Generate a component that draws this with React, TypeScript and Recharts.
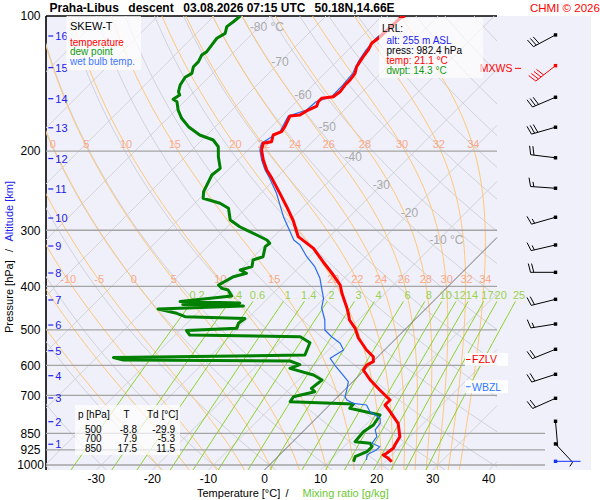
import React from 'react';
import { ComposedChart, Scatter, XAxis, YAxis, CartesianGrid, ReferenceLine } from 'recharts';

// ---------- skew-T geometry ----------
const P_TOP = 100;
const P_BOTTOM = 1026;
const SKEW = 80.08; // degC per decade of pressure
const X_MIN = -38.97;
const X_MAX = 58.23;
const X_DIAGRAM = 41.47;
const X_LOW_LINES = 50.03;
const skew = (t: number, p: number) => t + SKEW * Math.log10(P_BOTTOM / p);

// ---------- sounding data ----------
const tempPressure = [100, 101.2, 112.1, 115.0, 119.0, 123.2, 126.4, 129.7, 134.2, 138.8, 142.5, 147.5, 151.3, 152.5, 155.2, 158.7, 162.0, 166.2, 167.0, 176.4, 181.0, 184.1, 190.5, 192.1, 198.8, 209.3, 220.3, 229.9, 248.3, 265.9, 284.7, 310.1, 329.2, 352.6, 377.5, 397.3, 414.6, 432.8, 444.0, 459.3, 475.4, 496.1, 521.4, 554.5, 573.9, 588.8, 598.9, 614.4, 646.7, 680.8, 716.5, 735.2, 760.9, 807.4, 864.9, 902.6, 918.0, 941.7, 950.0, 966.4, 983.3];
const tempValues = [-55.9, -56.4, -56.7, -57.0, -56.4, -56.1, -55.8, -55.5, -54.6, -54.3, -54.3, -54.0, -54.3, -56.1, -56.1, -55.6, -56.4, -57.0, -58.6, -57.6, -57.3, -58.2, -57.3, -58.5, -57.6, -55.5, -53.1, -50.7, -46.6, -43.0, -39.5, -35.6, -30.8, -26.7, -22.5, -19.5, -17.7, -15.7, -14.5, -13.0, -11.6, -9.1, -6.8, -3.2, -0.8, 0.1, -0.5, -0.2, 2.8, 6.3, 9.9, 9.9, 12.0, 15.5, 18.2, 18.8, 19.1, 18.8, 18.5, 20.0, 21.2];

const dewPressure = [100, 103.0, 105.6, 109.3, 112.1, 116.0, 120.1, 122.2, 126.4, 129.7, 134.2, 136.9, 142.5, 147.5, 150.0, 153.3, 155.2, 162.0, 169.0, 176.4, 184.1, 188.9, 195.5, 205.8, 218.4, 226.0, 246.2, 254.7, 261.3, 268.1, 284.7, 294.7, 299.7, 315.4, 320.8, 326.4, 343.7, 349.5, 361.6, 367.9, 374.2, 380.7, 397.3, 404.2, 407.6, 420.3, 432.4, 435.7, 439.1, 442.5, 449.4, 459.3, 467.4, 471.8, 483.5, 496.1, 501.7, 513.5, 518.0, 534.1, 568.9, 576.3, 583.7, 586.7, 597.4, 609.1, 630.3, 646.7, 674.9, 686.7, 704.6, 722.7, 731.3, 747.6, 773.8, 814.5, 843.0, 887.4, 894.8, 910.4, 934.1, 958.4, 983.3];
const dewValues = [-85.3, -85.5, -85.8, -84.9, -85.5, -85.2, -84.9, -85.2, -84.6, -84.6, -83.7, -84.2, -83.7, -82.8, -82.0, -82.4, -81.3, -79.6, -77.5, -74.8, -71.3, -68.0, -65.9, -64.1, -61.7, -62.0, -60.5, -59.4, -55.5, -53.1, -50.7, -47.8, -46.0, -40.6, -39.5, -39.7, -38.3, -39.5, -38.5, -40.0, -38.3, -40.0, -41.2, -40.0, -38.6, -36.9, -45.1, -34.2, -44.1, -33.0, -47.7, -43.6, -41.5, -30.5, -30.8, -30.2, -38.8, -37.4, -17.4, -14.6, -13.3, -47.0, -44.8, -14.9, -12.5, -13.6, -8.2, -5.8, -6.2, -5.0, -7.9, -7.6, 4.1, 4.2, 10.8, 11.4, 10.8, 11.1, 14.1, 15.0, 15.0, 13.8, 14.4];

const wetBulbPressure = [100, 112.1, 119.0, 126.4, 134.2, 142.5, 151.3, 155.2, 162.0, 167.0, 181.0, 192.1, 198.8, 209.3, 220.3, 229.9, 248.3, 279.9, 315.4, 323.6, 343.7, 361.6, 383.9, 404.2, 425.3, 447.0, 475.4, 500.4, 518.0, 535.8, 554.5, 578.6, 598.9, 624.8, 652.3, 680.8, 704.6, 716.5, 728.8, 735.2, 760.9, 787.0, 807.4, 835.6, 864.9, 894.8, 910.4, 926.2, 941.7, 950.0, 974.8];
const wetBulbValues = [-56.3, -57.1, -56.8, -56.1, -55.0, -54.7, -54.6, -56.5, -56.7, -58.9, -57.6, -58.8, -57.9, -55.8, -53.4, -51.1, -47.2, -41.8, -35.8, -33.8, -30.5, -27.3, -24.3, -22.2, -20.1, -18.7, -16.0, -14.2, -11.8, -9.1, -7.3, -8.2, -6.2, -3.5, -0.8, 0.4, 1.3, 2.2, 3.9, 6.6, 8.4, 11.4, 12.3, 12.6, 14.1, 14.4, 16.4, 16.4, 15.8, 15.6, 16.4];

const windPressure = [110.2, 129.0, 151.7, 176.9, 206.9, 241.9, 280.7, 323.6, 372.3, 427.6, 485.3, 552.5, 628.1, 710.3, 799.1, 897.6, 981.3];
const windDirection = [242, 232, 247, 254, 277, 274, 254, 257, 270, 256, 261, 248, 252, 246, 175, 137, 90];
const windSpeed = [30, 40, 30, 30, 20, 15, 15, 15, 20, 20, 15, 20, 20, 20, 0, 5, 0];
const windColor = ['#000', '#ff0000', '#000', '#000', '#000', '#000', '#000', '#000', '#000', '#000', '#000', '#000', '#000', '#000', '#000', '#000', '#1030ff'];

// ---------- axis / label lists ----------
const pressureTicks = [100, 200, 300, 400, 500, 600, 700, 850, 925, 1000];
const pressureLines = [200, 300, 400, 500, 600, 700, 850, 925, 1000];
const temperatureTicks = [-30, -20, -10, 0, 10, 20, 30, 40];
const kmLabels = ['1', '2', '3', '4', '5', '6', '7', '8', '9', '10', '11', '12', '13', '14', '15', '16'];
const kmPressure = [899.0, 800.8, 709.1, 632.6, 556.5, 487.8, 429.0, 373.6, 325.3, 281.8, 242.8, 207.7, 177.4, 152.8, 130.3, 110.8];
const isothermLabelT = [-80, -70, -60, -50, -40, -30, -20, -10];
const isothermLabelP = [105.8, 126.6, 150.0, 176.7, 206.1, 237.9, 274.6, 315.4];
const moistThetaW = [-20, -15, -10, -5, 0, 5, 10, 15, 20, 22, 24, 26, 28, 30, 32, 34];
const moistLabelsLow = [-10, -5, 0, 5, 10, 15, 20, 22, 24, 26, 28, 30, 32, 34];
const moistLabelsHigh = [0, 5, 10, 15, 20, 22, 24, 26, 28, 30, 32, 34];
const mixingRatios = [0.2, 0.4, 0.6, 1, 1.4, 2, 3, 4, 6, 8, 10, 12, 14, 17, 20, 25];
const mixingLabels = ['0.2', '0.4', '0.6', '1', '1.4', '2', '3', '4', '6', '8', '10', '12', '14', '17', '20', '25'];
const markerNames = ['MXWS', 'FZLV', 'WBZL'];
const markerPressure = [130.8, 582.1, 669.4];
const markerColor = ['#ff0000', '#ff0000', '#2f78ff'];

const MOIST_LABEL_P_LOW = 385;
const MOIST_LABEL_P_HIGH = 193;
const MIX_LABEL_P = 418;
const MIX_TOP_P = 432;

// ---------- thermodynamics for the background diagram ----------
type Pt = { x: number; p: number; text?: string };
const RD = 287.04, CP = 1005.7, LV = 2.501e6, EPS = 0.622;
const satVap = (tc: number) => 6.112 * Math.exp((17.67 * tc) / (tc + 243.5));

function moistCurve(thw: number): Pt[] {
  const rate = (p: number, tk: number) => {
    const e = satVap(tk - 273.15);
    const rs = (EPS * e) / (p - e);
    return (RD * tk + LV * rs) / (CP + (LV * LV * rs * EPS) / (RD * tk * tk)) / p;
  };
  const rk = (p: number, tk: number, dp: number) => {
    const k1 = rate(p, tk);
    const k2 = rate(p + dp / 2, tk + (dp / 2) * k1);
    const k3 = rate(p + dp / 2, tk + (dp / 2) * k2);
    const k4 = rate(p + dp, tk + dp * k3);
    return tk + (dp * (k1 + 2 * k2 + 2 * k3 + k4)) / 6;
  };
  const t0 = thw + 273.15;
  const out: Pt[] = [{ x: skew(rk(1000, t0, P_BOTTOM - 1000) - 273.15, P_BOTTOM), p: P_BOTTOM }];
  out.push({ x: skew(thw, 1000), p: 1000 });
  let tk = t0;
  for (let i = 1; i <= 180; i++) {
    const p = 1000 - 5 * (i - 1);
    tk = rk(p, tk, -5);
    if (i % 2 === 0) out.push({ x: skew(tk - 273.15, p - 5), p: p - 5 });
  }
  return out;
}

function dryCurve(thetaC: number): Pt[] {
  const out: Pt[] = [];
  for (let i = 0; i <= 40; i++) {
    const p = P_BOTTOM * Math.pow(P_TOP / P_BOTTOM, i / 40);
    const t = (thetaC + 273.15) * Math.pow(p / 1000, 0.2857) - 273.15;
    out.push({ x: skew(t, p), p });
  }
  return out;
}

const dewFromMixing = (w: number, p: number) => {
  const e = (w * p) / (622 + w);
  const l = Math.log(e / 6.112);
  return (243.5 * l) / (17.67 - l);
};

function mixingCurve(w: number): Pt[] {
  const out: Pt[] = [];
  for (let i = 0; i <= 24; i++) {
    const p = P_BOTTOM * Math.pow(MIX_TOP_P / P_BOTTOM, i / 24);
    out.push({ x: skew(dewFromMixing(w, p), p), p });
  }
  return out;
}

function clipRight(pts: Pt[], xMax: number): Pt[][] {
  const segs: Pt[][] = [];
  let cur: Pt[] = [];
  for (let i = 0; i < pts.length; i++) {
    const a = pts[i];
    const inside = a.x <= xMax;
    if (i > 0) {
      const b = pts[i - 1];
      const bIn = b.x <= xMax;
      if (inside !== bIn) {
        const t = (xMax - b.x) / (a.x - b.x);
        const lp = Math.log(b.p) + t * (Math.log(a.p) - Math.log(b.p));
        cur.push({ x: xMax, p: Math.exp(lp) });
        if (!inside) {
          segs.push(cur);
          cur = [];
        }
      }
    }
    if (inside) cur.push(a);
  }
  if (cur.length > 1) segs.push(cur);
  return segs.filter((s) => s.length > 1);
}

function xAtP(pts: Pt[], p: number) {
  for (let i = 1; i < pts.length; i++) {
    const a = pts[i - 1], b = pts[i];
    if ((a.p - p) * (b.p - p) <= 0) {
      const t = (Math.log(p) - Math.log(a.p)) / (Math.log(b.p) - Math.log(a.p));
      return a.x + t * (b.x - a.x);
    }
  }
  return NaN;
}

// ---------- build series ----------
const toPts = (ps: number[], ts: number[]): Pt[] => ps.map((p, i) => ({ x: skew(ts[i], p), p }));
const tempPts = toPts(tempPressure, tempValues);
const dewPts = toPts(dewPressure, dewValues);
const wetBulbPts = toPts(wetBulbPressure, wetBulbValues);

const isothermSegs: Pt[][] = [];
for (let t = -130; t <= 40; t += 10) {
  if (t === 0) continue;
  clipRight([{ x: skew(t, P_BOTTOM), p: P_BOTTOM }, { x: skew(t, P_TOP), p: P_TOP }], X_DIAGRAM).forEach((s) => isothermSegs.push(s));
}
const zeroIsotherm = clipRight([{ x: skew(0, P_BOTTOM), p: P_BOTTOM }, { x: skew(0, P_TOP), p: P_TOP }], X_DIAGRAM);

const drySegs: Pt[][] = [];
for (let th = -40; th <= 180; th += 10) clipRight(dryCurve(th), X_DIAGRAM).forEach((s) => drySegs.push(s));

const moistCurves = moistThetaW.map((w) => moistCurve(w));
const moistSegs: Pt[][] = [];
moistCurves.forEach((c) => clipRight(c, X_DIAGRAM).forEach((s) => moistSegs.push(s)));
const moistLabelPts: Pt[] = [
  ...moistLabelsLow.map((w) => ({ x: xAtP(moistCurves[moistThetaW.indexOf(w)], MOIST_LABEL_P_LOW), p: MOIST_LABEL_P_LOW, text: String(w) })),
  ...moistLabelsHigh.map((w) => ({ x: xAtP(moistCurves[moistThetaW.indexOf(w)], MOIST_LABEL_P_HIGH), p: MOIST_LABEL_P_HIGH, text: String(w) })),
];

const mixingSegs = mixingRatios.map((w) => mixingCurve(w));
const mixingLabelPts: Pt[] = mixingRatios.map((w, i) => ({ x: skew(dewFromMixing(w, MIX_LABEL_P), MIX_LABEL_P), p: MIX_LABEL_P, text: mixingLabels[i] }));

const isothermLabelPts: Pt[] = isothermLabelT.map((t, i) => ({
  x: skew(t, isothermLabelP[i]),
  p: isothermLabelP[i],
  text: i === 0 || i === isothermLabelT.length - 1 ? `${t} °C` : String(t),
}));

const pressureLineSegs: Pt[][] = pressureLines.map((p) => [
  { x: X_MIN, p },
  { x: p >= 850 ? X_LOW_LINES : X_DIAGRAM, p },
]);

const X_KM = -38.56;
const kmPts: Pt[] = kmPressure.map((p, i) => ({ x: X_KM, p, text: kmLabels[i] }));

const X_BARB = 51.9;
const windPts = windPressure.map((p, i) => ({ x: X_BARB, p, dir: windDirection[i], spd: windSpeed[i], color: windColor[i] }));

const markerPts = markerNames.map((n, i) => ({ x: i === 0 ? 44.68 : 35.94, p: markerPressure[i], text: n, color: markerColor[i] }));

// ---------- shapes ----------
const Empty = () => <g />;
const getP = (props: any) => props.payload ?? props;

const textShape = (color: string, size: number, dx = 0) => (props: any) => (
  <text x={props.cx + dx} y={props.cy + size * 0.36} fill={color} fontSize={size} textAnchor="middle">
    {getP(props).text}
  </text>
);

const isothermLabelShape = (props: any) => {
  const t: string = getP(props).text;
  const dx = t.includes('°') ? 8 : 0;
  return (
    <text x={props.cx + dx} y={props.cy + 4.3} fill="#aaaaaa" fontSize={12} textAnchor="middle">
      {t}
    </text>
  );
};

const kmShape = (props: any) => (
  <g>
    <line x1={props.cx} y1={props.cy} x2={props.cx + 5} y2={props.cy} stroke="#2020ee" strokeWidth={1.2} />
    <text x={props.cx + 7} y={props.cy + 4} fill="#2020ee" fontSize={11}>
      {getP(props).text}
    </text>
  </g>
);

const markerShape = (props: any) => {
  const d = getP(props);
  const { cx, cy } = props;
  if (d.text === 'MXWS') {
    return (
      <g>
        <text x={cx - 2.5} y={cy + 3.8} fill={d.color} fontSize={10.5} textAnchor="end">{d.text}</text>
        <line x1={cx} y1={cy} x2={cx + 6} y2={cy} stroke={d.color} strokeWidth={1} />
      </g>
    );
  }
  return (
    <g>
      <rect x={cx - 1} y={cy - 6.5} width={43} height={13} fill="#ffffff" fillOpacity={0.85} />
      <line x1={cx} y1={cy} x2={cx + 4.5} y2={cy} stroke={d.color} strokeWidth={1} />
      <text x={cx + 6} y={cy + 3.8} fill={d.color} fontSize={10.5}>{d.text}</text>
    </g>
  );
};

const barbShape = (props: any) => {
  const d = getP(props);
  const { cx, cy } = props;
  const rad = (d.dir * Math.PI) / 180;
  const ux = Math.sin(rad), uy = -Math.cos(rad);
  const L = 25;
  const tx = cx + ux * L, ty = cy + uy * L;
  let fx = -uy + 0.25 * ux, fy = ux + 0.25 * uy;
  const fl = Math.hypot(fx, fy);
  fx /= fl;
  fy /= fl;
  const full = Math.floor(d.spd / 10);
  const half = d.spd % 10 >= 5;
  const feathers: React.ReactElement[] = [];
  for (let i = 0; i < full; i++) {
    const bx = tx - ux * 3.3 * i, by = ty - uy * 3.3 * i;
    feathers.push(<line key={i} x1={bx} y1={by} x2={bx + fx * 9} y2={by + fy * 9} />);
  }
  if (half) {
    const bx = tx - ux * 3.3 * full, by = ty - uy * 3.3 * full;
    feathers.push(<line key="h" x1={bx} y1={by} x2={bx + fx * 5} y2={by + fy * 5} />);
  }
  return (
    <g stroke={d.color} strokeWidth={1} fill="none">
      <line x1={cx} y1={cy} x2={tx} y2={ty} />
      {feathers}
      <rect x={cx - 1.7} y={cy - 1.7} width={3.4} height={3.4} fill={d.color} stroke="none" />
    </g>
  );
};

const lineSeries = (key: string, pts: Pt[], color: string, width: number) => (
  <Scatter
    key={key}
    data={pts}
    fill="none"
    shape={Empty}
    isAnimationActive={false}
    legendType="none"
    line={{ stroke: color, strokeWidth: width, strokeLinejoin: 'round' }}
    lineType="joint"
  />
);

const labelSeries = (key: string, pts: any[], shape: any) => (
  <Scatter key={key} data={pts} shape={shape} isAnimationActive={false} legendType="none" />
);

const yTick = (props: any) => (
  <text x={props.x - 15.5} y={props.y + 4.3} fontSize={12} fill="#000" textAnchor="middle">
    {props.payload.value}
  </text>
);
const xTick = (props: any) => (
  <text x={props.x} y={props.y + 12.6} fontSize={12} fill="#000" textAnchor="middle">
    {props.payload.value}
  </text>
);

const FONT = '"Liberation Sans", Arial, Helvetica, sans-serif';

export default function App() {
  return (
    <div style={{ position: 'absolute', left: 0, top: 0, width: 600, height: 500, background: '#ffffff', fontFamily: FONT }}>
      <ComposedChart width={600} height={500} margin={{ top: 16, right: 9, bottom: 0, left: 0 }}>
        <CartesianGrid fill="#f0f0fa" fillOpacity={1} stroke="none" horizontal={false} vertical={false} />
        <XAxis
          type="number"
          dataKey="x"
          domain={[X_MIN, X_MAX]}
          ticks={temperatureTicks}
          allowDataOverflow
          axisLine={false}
          tickLine={false}
          tickSize={0}
          tickMargin={0}
          height={30}
          interval={0}
          tick={xTick}
        />
        <YAxis
          type="number"
          dataKey="p"
          scale="log"
          domain={[P_TOP, P_BOTTOM]}
          reversed
          allowDataOverflow
          ticks={pressureTicks}
          interval={0}
          width={46}
          tickLine={false}
          tickSize={0}
          tickMargin={0}
          axisLine={{ stroke: '#000', strokeWidth: 1.6 }}
          tick={yTick}
        />
        {drySegs.map((s, i) => lineSeries(`dry${i}`, s, '#d2d2d8', 1))}
        {isothermSegs.map((s, i) => lineSeries(`iso${i}`, s, '#d2d2d8', 1))}
        {moistSegs.map((s, i) => lineSeries(`moist${i}`, s, '#ffc878', 1))}
        {mixingSegs.map((s, i) => lineSeries(`mix${i}`, s, '#8cd22a', 1))}
        {pressureLineSegs.map((s, i) => lineSeries(`pl${i}`, s, '#a4a4a4', 1.3))}
        {zeroIsotherm.map((s, i) => lineSeries(`zero${i}`, s, '#707070', 1))}
        {labelSeries('moistLabels', moistLabelPts, textShape('#f8a98c', 11, 1))}
        {labelSeries('mixLabels', mixingLabelPts, textShape('#9ad250', 11))}
        {labelSeries('isoLabels', isothermLabelPts, isothermLabelShape)}
        {labelSeries('km', kmPts, kmShape)}
        {lineSeries('dew', dewPts, '#008000', 3)}
        {lineSeries('wetbulb', wetBulbPts, '#2a6cf0', 1.2)}
        {lineSeries('temp', tempPts, '#ff0000', 3)}
        {labelSeries('wind', windPts, barbShape)}
        {labelSeries('markers', markerPts, markerShape)}
        <ReferenceLine
          segment={[{ x: X_MIN, y: P_TOP }, { x: X_DIAGRAM, y: P_TOP }]}
          stroke="#000"
          strokeWidth={1.6}
          ifOverflow="visible"
        />
      </ComposedChart>
      <svg width={600} height={500} style={{ position: 'absolute', left: 0, top: 0, pointerEvents: 'none', fontFamily: FONT }}>
        {/* title */}
        <g fontSize={12} fontWeight="bold" fill="#000">
          <text x={49.5} y={11.8}>Praha-Libus</text>
          <text x={128.3} y={11.8}>descent</text>
          <text x={183.3} y={11.8}>03.08.2026 07:15 UTC</text>
          <text x={314.5} y={11.8}>50.18N,14.66E</text>
        </g>
        <text x={530} y={11.5} fontSize={11.5} fill="#ff0000">CHMI © 2026</text>

        {/* legend box */}
        <rect x={66.5} y={16} width={74.5} height={54} fill="#ffffff" fillOpacity={0.75} />
        <text x={70} y={30} fontSize={11} fill="#000">SKEW-T</text>
        <text x={70} y={45.8} fontSize={10} fill="#ff0000">temperature</text>
        <text x={70} y={55.3} fontSize={10} fill="#109a10">dew point</text>
        <text x={70} y={65.2} fontSize={10} fill="#3c78ff">wet bulb temp.</text>

        {/* LRL box */}
        <rect x={379} y={18} width={104} height={60} fill="#ffffff" fillOpacity={0.65} />
        <text x={382} y={31.8} fontSize={10} fill="#000">LRL:</text>
        <text x={386.5} y={43.6} fontSize={10} fill="#2222ee">alt: 255 m ASL</text>
        <text x={386.5} y={53.6} fontSize={10} fill="#000">press: 982.4 hPa</text>
        <text x={386.5} y={63.8} fontSize={10} fill="#ff0000">temp: 21.1 °C</text>
        <text x={386.5} y={73.6} fontSize={10} fill="#109a10">dwpt: 14.3 °C</text>

        {/* table */}
        <rect x={75} y={405} width={105} height={50} fill="#ffffff" fillOpacity={0.7} />
        <g fontSize={10} fill="#000">
          <text x={78} y={417.6}>p [hPa]</text>
          <text x={126.5} y={417.6} textAnchor="middle">T</text>
          <text x={147} y={417.6}>Td [°C]</text>
          <text x={93.3} y={432.6} textAnchor="middle">500</text>
          <text x={137} y={432.6} textAnchor="end">-8.8</text>
          <text x={175} y={432.6} textAnchor="end">-29.9</text>
          <text x={93.3} y={442.3} textAnchor="middle">700</text>
          <text x={137} y={442.3} textAnchor="end">7.9</text>
          <text x={175} y={442.3} textAnchor="end">-5.3</text>
          <text x={93.3} y={452.3} textAnchor="middle">850</text>
          <text x={137} y={452.3} textAnchor="end">17.5</text>
          <text x={175} y={452.3} textAnchor="end">11.5</text>
        </g>

        {/* axis titles */}
        <g fontSize={11}>
          <text x={197} y={497} fill="#000">Temperature [°C]</text>
          <text x={285.5} y={497} fill="#000">/</text>
          <text x={302.5} y={497} fill="#6cc832">Mixing ratio [g/kg]</text>
        </g>
        <g fontSize={11} transform="translate(13,333) rotate(-90)">
          <text x={0} y={0} fill="#000">Pressure [hPa]</text>
          <text x={81} y={0} fill="#000">/</text>
          <text x={91.5} y={0} fill="#2020ee">Altitude [km]</text>
        </g>
      </svg>
    </div>
  );
}
